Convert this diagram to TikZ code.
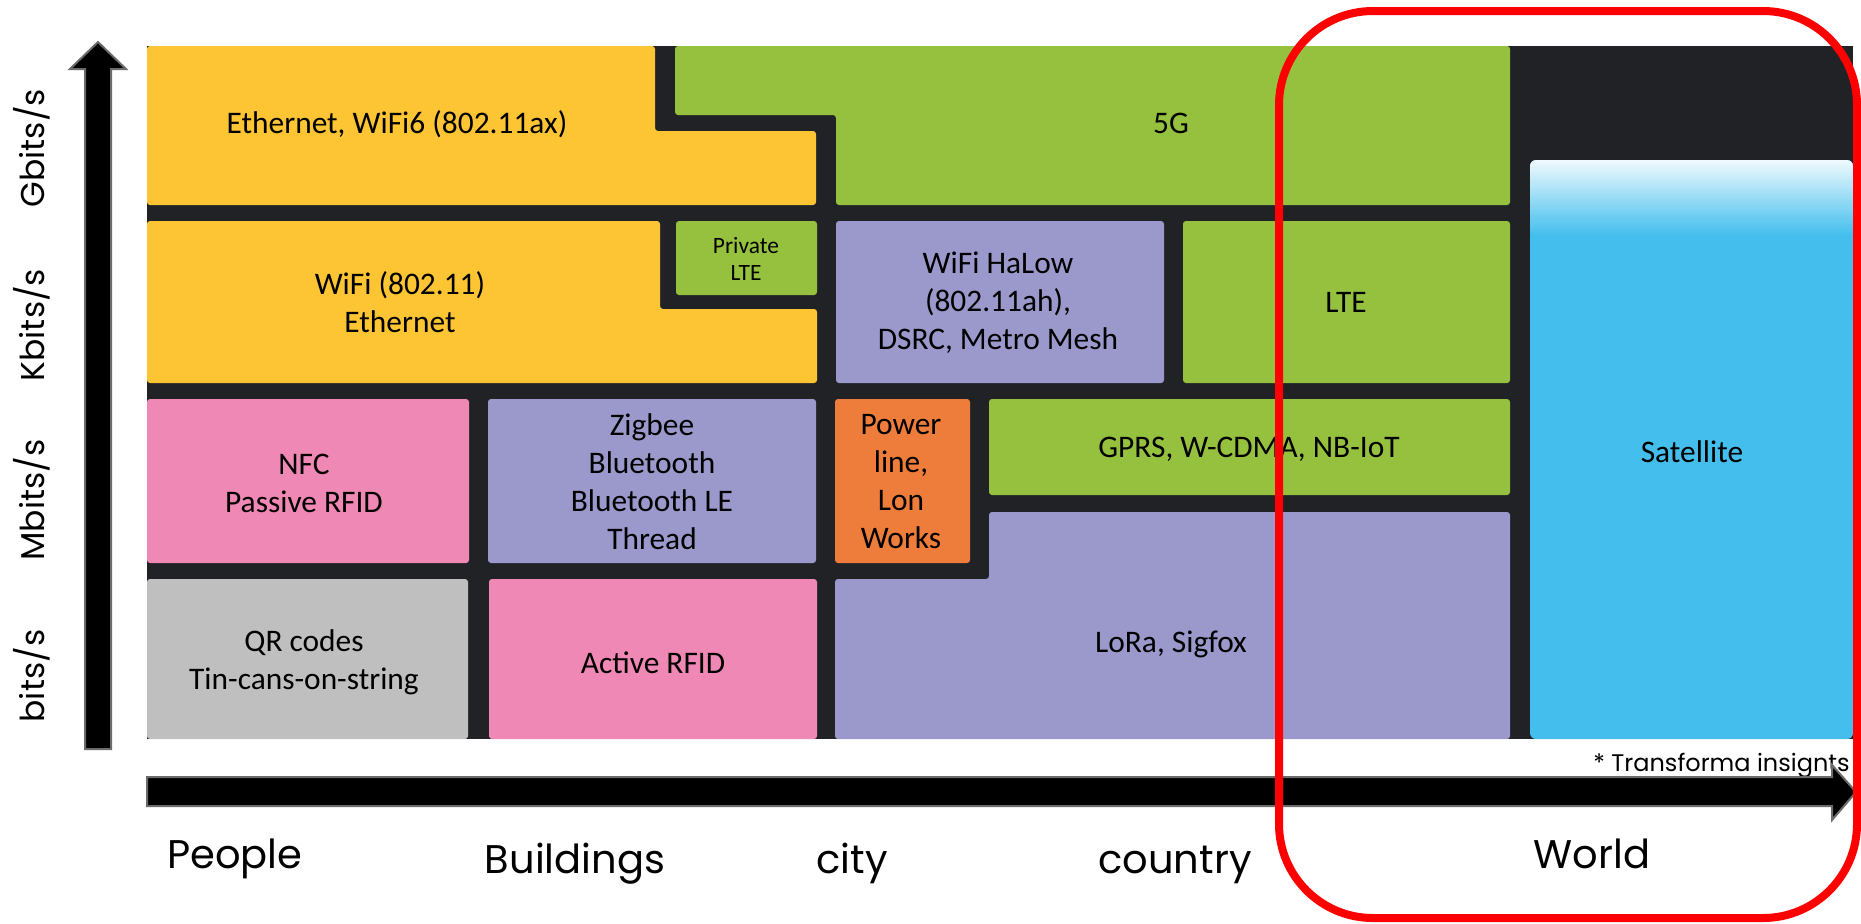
\documentclass[tikz,border=0pt]{standalone}
\usepackage{fontspec}
\setmainfont{Carlito}
\newfontfamily\axisfont{Poppins}
\definecolor{cyel}{HTML}{FDC533}
\definecolor{cgrn}{HTML}{95C13F}
\definecolor{cpur}{HTML}{9B99CB}
\definecolor{cpnk}{HTML}{EF88B4}
\definecolor{cgry}{HTML}{BFBFBF}
\definecolor{corg}{HTML}{EE7D3B}
\definecolor{cblu}{HTML}{43BEED}
\definecolor{cblk}{HTML}{202226}
\definecolor{cedge}{HTML}{6B6B6B}
\tikzset{
  tile/.style={inner sep=0pt, align=center, font=\fontsize{15.7pt}{19pt}\selectfont, text=black},
  smalltile/.style={inner sep=0pt, align=center, font=\fontsize{11.7pt}{13.5pt}\selectfont, text=black},
  ylabel/.style={inner sep=0pt, rotate=90, font=\axisfont\fontsize{16.5pt}{18pt}\selectfont},
  xlabel/.style={inner sep=0pt, anchor=base, font=\axisfont\fontsize{20pt}{22pt}\selectfont},
  axisarrow/.style={fill=black, draw=cedge, line width=1pt, line join=miter},
  region/.style={rounded corners=1.5pt}
}
\begin{document}
\begin{tikzpicture}[x=0.5pt, y=-0.5pt]
\useasboundingbox (0,0) rectangle (1861,923);
% background of the chart (black separators)
\fill[cblk] (147,46) rectangle (1853,739);
% row 1
\fill[cyel, region] (147,46) -- (655,46) -- (655,131) -- (816,131) -- (816,205) -- (147,205) -- cycle;
\fill[cgrn, region] (675,46) -- (1510,46) -- (1510,205) -- (836,205) -- (836,115) -- (675,115) -- cycle;
% row 2
\fill[cyel, region] (147,221) -- (660,221) -- (660,309) -- (817,309) -- (817,383) -- (147,383) -- cycle;
\fill[cgrn, region] (676,221) rectangle (817,295);
\fill[cpur, region] (836,221) rectangle (1164,383);
\fill[cgrn, region] (1183,221) rectangle (1510,383);
% row 3
\fill[cpnk, region] (147,399) rectangle (469,563);
\fill[cpur, region] (488,399) rectangle (816,563);
\fill[corg, region] (835,399) rectangle (970,563);
\fill[cgrn, region] (989,399) rectangle (1510,495);
% row 4
\fill[cgry, region] (147,579) rectangle (468,739);
\fill[cpnk, region] (489,579) rectangle (817,739);
\fill[cpur, region] (989,512) -- (1510,512) -- (1510,739) -- (835,739) -- (835,579) -- (989,579) -- cycle;
% satellite
\fill[cblu, rounded corners=3pt] (1530,160) rectangle (1853,739);
\shade[top color=white!92!cblu, bottom color=cblu, middle color=cblu!55!white, rounded corners=3pt] (1530,160) rectangle (1853,236);
% texts
\node[tile] (eth6) at (397,124) {Ethernet, WiFi6 (802.11ax)};
\node[tile] (fiveg) at (1171,123) {5G};
\node[tile] (wifi) at (400,302) {WiFi (802.11)\\Ethernet};
\node[smalltile] (plte) at (746,259) {Private\\LTE};
\node[tile] (halow) at (998,303) {WiFi HaLow\\(802.11ah),\\DSRC, Metro Mesh};
\node[tile] (lte) at (1346,302) {LTE};
\node[tile] (nfc) at (304,483) {NFC\\Passive RFID};
\node[tile] (zig) at (652,482) {Zigbee\\Bluetooth\\Bluetooth LE\\Thread};
\node[tile] (plc) at (901,482) {Power\\line,\\Lon\\Works};
\node[tile] (gprs) at (1249,449) {GPRS, W-CDMA, NB-IoT};
\node[tile] (qr) at (304,662) {QR codes\\Tin-cans-on-string};
\node[tile] (arfid) at (653,663) {Active RFID};
\node[tile] (lora) at (1171,644) {LoRa, Sigfox};
\node[tile] (sat) at (1692,452) {Satellite};
% axis labels
\node[ylabel] (gb) at (32,148) {Gbits/s};
\node[ylabel] (kb) at (32,325) {Kbits/s};
\node[ylabel] (mb) at (32,500) {Mbits/s};
\node[ylabel] (bb) at (32,676) {bits/s};
\node[xlabel] (people) at (235,868) {People};
\node[xlabel] (build) at (575,873) {Buildings};
\node[xlabel] (city) at (852,873) {city};
\node[xlabel] (country) at (1175,873) {country};
\node[xlabel] (world) at (1592,868) {World};
\node[inner sep=0pt, anchor=base east, font=\axisfont\fontsize{12pt}{14pt}\selectfont] (src) at (1850,771) {* Transforma insignts};
% axes
\coordinate (ybot) at (98,749);
\coordinate (ytip) at (98,42);
\coordinate (xleft) at (147,791);
\coordinate (xtip) at (1856,792);
\draw[axisarrow] (85,749) -- (85,69) -- (70,69) -- (ytip) -- (126,69) -- (111,69) -- (111,749) -- cycle;
\draw[axisarrow] (147,777) -- (1832,777) -- (1832,765) -- (xtip) -- (1832,820) -- (1832,806) -- (147,806) -- cycle;
% highlight
\draw[red, line width=4pt, rounded corners=47pt] (1279,11) rectangle (1857,918);
\end{tikzpicture}
\end{document}
